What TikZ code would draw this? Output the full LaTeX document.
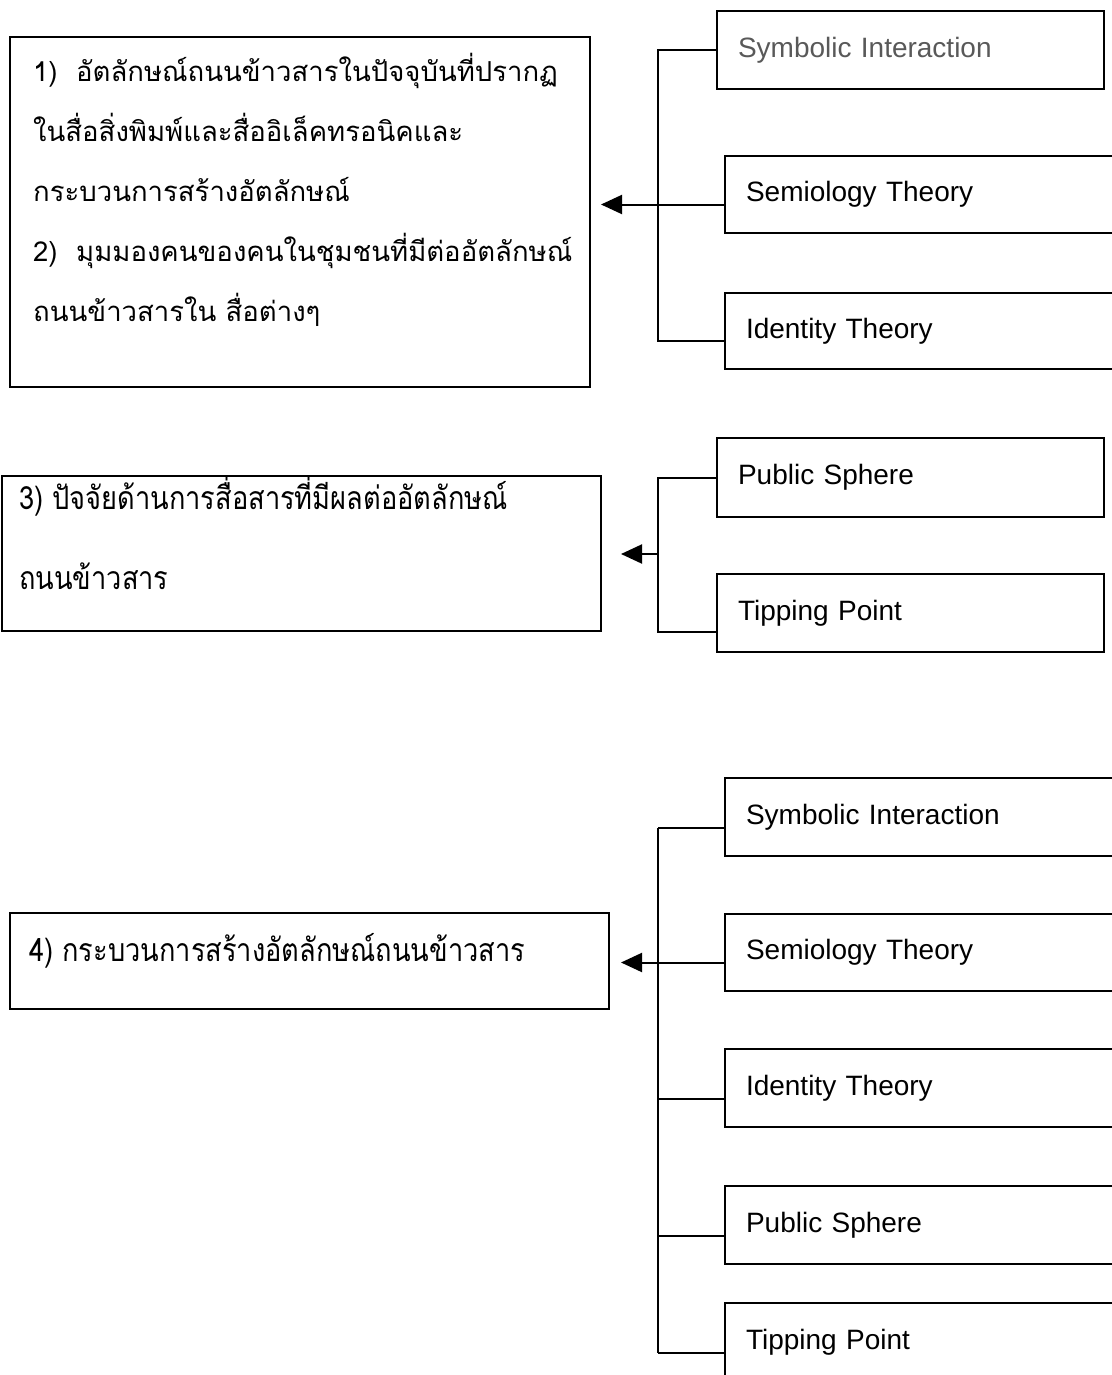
\documentclass[tikz,border=0pt]{standalone}
\usepackage{fontspec}
\setmainfont{Liberation Sans}
\newfontfamily\thaifont[Script=Thai]{Loma}
\newfontfamily\thaicond[Script=Thai,FakeStretch=0.85]{Loma}
\usetikzlibrary{arrows.meta,positioning,fit}

\tikzset{
  frame/.style={draw, line width=2pt, inner sep=0pt},
  thtext/.style={anchor=north west, align=left, inner sep=0pt,
    font=\thaifont\fontsize{27.5}{60}\selectfont},
  theory/.style={draw, line width=2pt, anchor=north west, align=left,
    inner xsep=21pt, inner ysep=0pt, text width=#1,
    font=\fontsize{28}{34}\selectfont},
  bus/.style={line width=2pt},
  feed/.style={line width=2pt, -{Triangle[length=21pt,width=19pt]}}
}

\begin{document}
\begin{tikzpicture}[x=1pt,y=1pt,yscale=-1,xscale=1]
\useasboundingbox (0,0) rectangle (1111,1375);

% first block: aims 1 and 2
\node[frame, fit={(10,37) (590,387)}] (aim12) {};
\node[thtext, below right=17pt and 24pt of aim12.north west] (aim12txt)
  {1)\ \ อัตลักษณ์ถนนข้าวสารในปัจจุบันที่ปรากฏ\\
   ในสื่อสิ่งพิมพ์และสื่ออิเล็คทรอนิคและ\\
   กระบวนการสร้างอัตลักษณ์\\
   2)\ \ มุมมองคนของคนในชุมชนที่มีต่ออัตลักษณ์\\
   ถนนข้าวสารใน สื่อต่างๆ};

\node[theory=345pt, minimum height=78pt, text=black!65] (sym1) at (716,10) {Symbolic Interaction};
\node[theory=349pt, minimum height=77pt] (sem1) at (724,155) {Semiology Theory};
\node[theory=349pt, minimum height=76pt] (idn1) at (724,292) {Identity Theory};

\coordinate (bus1) at (658,0);
\draw[bus] (sym1.west) -- (sym1.west -| bus1) -- ([yshift=10pt]idn1.west -| bus1) -- ([yshift=10pt]idn1.west);
\draw[feed, shorten >=10pt] ([yshift=10pt]sem1.west) -- ([yshift=10pt]sem1.west -| aim12.east);

% second block: aim 3
\node[frame, fit={(2,476) (601,631)}] (aim3) {};
\node[thtext, font=\thaicond\fontsize{32}{80}\selectfont,
  below right=1pt and 18pt of aim3.north west] (aim3txt)
  {3) ปัจจัยด้านการสื่อสารที่มีผลต่ออัตลักษณ์\\
   ถนนข้าวสาร};

\node[theory=345pt, minimum height=79pt] (pub2) at (716,437) {Public Sphere};
\node[theory=345pt, minimum height=78pt] (tip2) at (716,573) {Tipping Point};

\coordinate (bus2) at (658,554);
\draw[bus] (pub2.west) -- (pub2.west -| bus2) -- ([yshift=19pt]tip2.west -| bus2) -- ([yshift=19pt]tip2.west);
\draw[feed, shorten >=19pt] (bus2) -- (bus2 -| aim3.east);

% third block: aim 4
\node[frame, fit={(10,913) (609,1009)}] (aim4) {};
\node[thtext, font=\thaicond\fontsize{32}{60}\selectfont,
  below right=21pt and 20pt of aim4.north west] (aim4txt)
  {4) กระบวนการสร้างอัตลักษณ์ถนนข้าวสาร};

\node[theory=350pt, minimum height=78pt] (sym3) at (724,777) {Symbolic Interaction};
\node[theory=350pt, minimum height=77pt] (sem3) at (724,913) {Semiology Theory};
\node[theory=350pt, minimum height=78pt] (idn3) at (724,1048) {Identity Theory};
\node[theory=350pt, minimum height=78pt] (pub3) at (724,1185) {Public Sphere};
\node[theory=350pt, minimum height=78pt] (tip3) at (724,1302) {Tipping Point};

\coordinate (bus3) at (658,0);
\foreach \b in {sym3,idn3,pub3,tip3}
  \draw[bus] ([yshift=11pt]\b.west) -- ([yshift=11pt]\b.west -| bus3);
\draw[bus] ([yshift=11pt]sym3.west -| bus3) -- ([yshift=11pt]tip3.west -| bus3);
\draw[feed, shorten >=11pt] ([yshift=10pt]sem3.west) -- ([yshift=10pt]sem3.west -| aim4.east);

\end{tikzpicture}
\end{document}
